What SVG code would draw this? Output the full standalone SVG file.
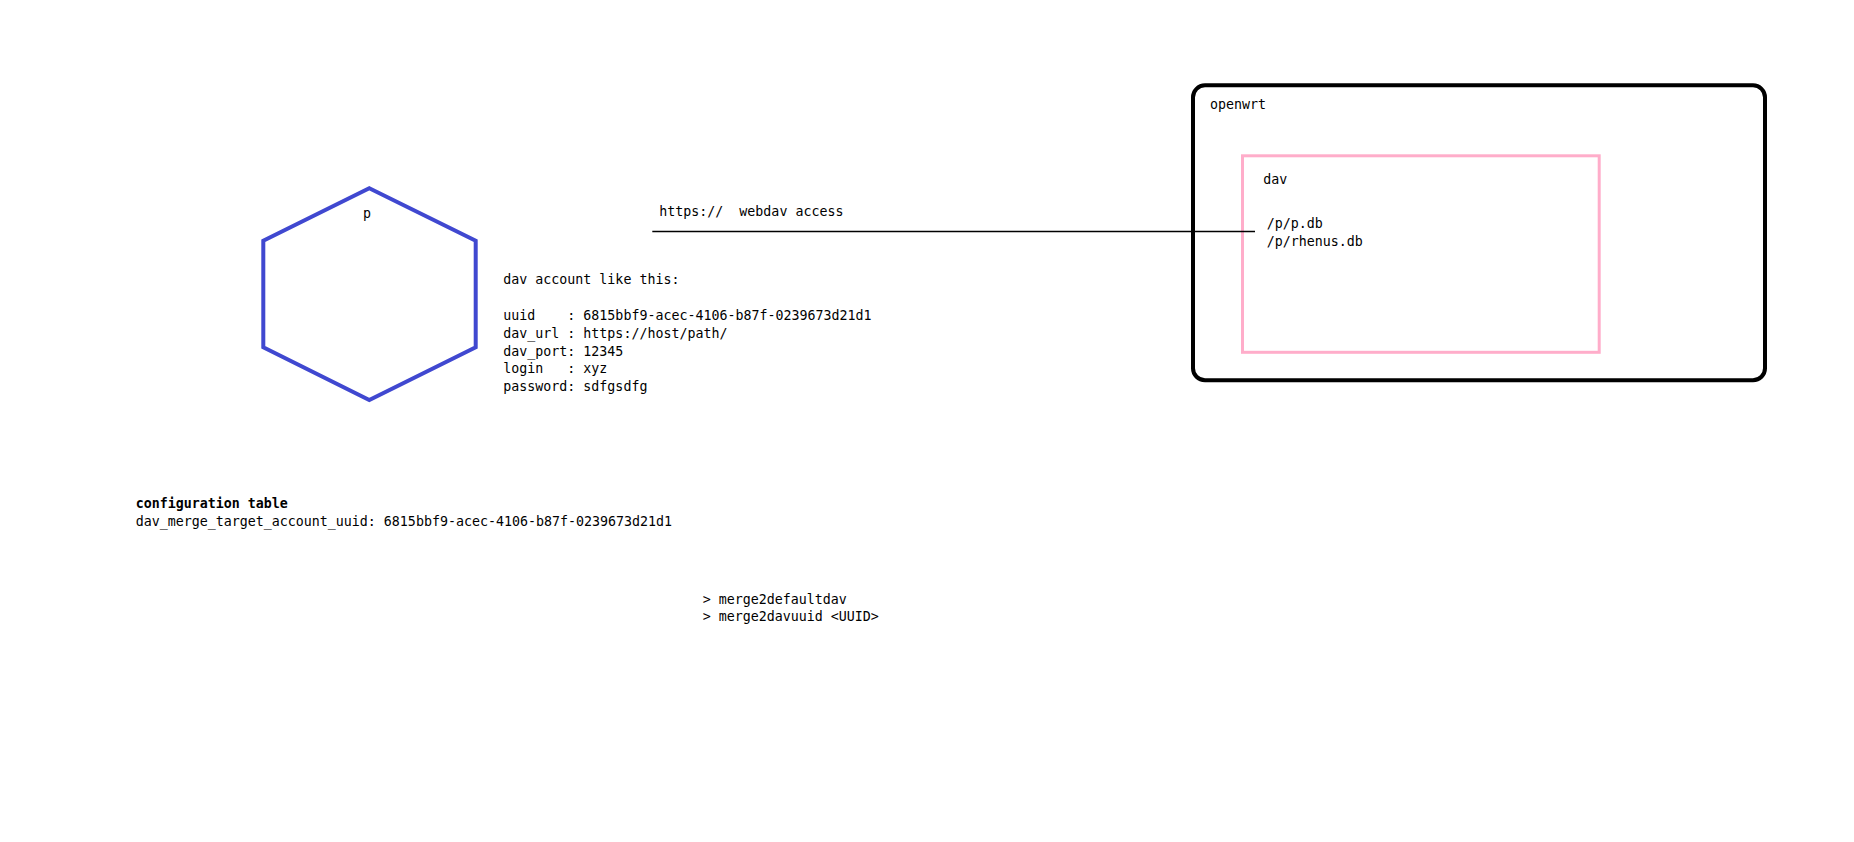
<svg xmlns="http://www.w3.org/2000/svg" width="1854" height="842" viewBox="0 0 1854 842" xml:space="preserve">
<style>
text { font-family: "DejaVu Sans Mono", "Liberation Mono", monospace; font-size: 13.3px; fill: #000; white-space: pre; }
.bold { font-weight: bold; }
.hex { fill: none; stroke: #4048D0; stroke-width: 4; stroke-linejoin: miter; }
.outer { fill: none; stroke: #000; stroke-width: 4; }
.inner { fill: none; stroke: #FFADCA; stroke-width: 3; }
.conn { stroke: #000; stroke-width: 1.3; fill: none; }
</style>
<rect x="0" y="0" width="1854" height="842" fill="#fff"/>
<g id="node-p">
<polygon class="hex" points="369.3,188.3 475.7,240.7 475.7,347.3 369.3,400 263.3,347.3 263.3,240.7"/>
<text x="367" y="218" text-anchor="middle">p</text>
</g>
<g id="node-account-note">
<text x="503.3" y="284">dav account like this:</text>
<text x="503.3" y="320">uuid    : 6815bbf9-acec-4106-b87f-0239673d21d1</text>
<text x="503.3" y="337.8">dav_url : https://host/path/</text>
<text x="503.3" y="355.6">dav_port: 12345</text>
<text x="503.3" y="373.4">login   : xyz</text>
<text x="503.3" y="391.2">password: sdfgsdfg</text>
</g>
<g id="node-openwrt">
<rect class="outer" x="1193" y="85.3" width="572" height="295" rx="12" ry="12"/>
<text x="1210" y="109.3">openwrt</text>
</g>
<g id="node-dav">
<rect class="inner" x="1242.5" y="155.8" width="356.7" height="196.5"/>
<text x="1263.3" y="184.3">dav</text>
<text x="1266.7" y="228.3">/p/p.db</text>
<text x="1266.7" y="246">/p/rhenus.db</text>
</g>
<g id="node-config">
<text class="bold" x="135.7" y="507.5">configuration table</text>
<text x="135.7" y="526">dav_merge_target_account_uuid: 6815bbf9-acec-4106-b87f-0239673d21d1</text>
</g>
<g id="node-commands">
<text x="702.7" y="603.5">&gt; merge2defaultdav</text>
<text x="702.7" y="621.2">&gt; merge2davuuid &lt;UUID&gt;</text>
</g>
<g id="connectors">
<line class="conn" x1="652.3" y1="231.5" x2="1255" y2="231.5"/>
<text x="659.3" y="216">https://  webdav access</text>
</g>
</svg>
